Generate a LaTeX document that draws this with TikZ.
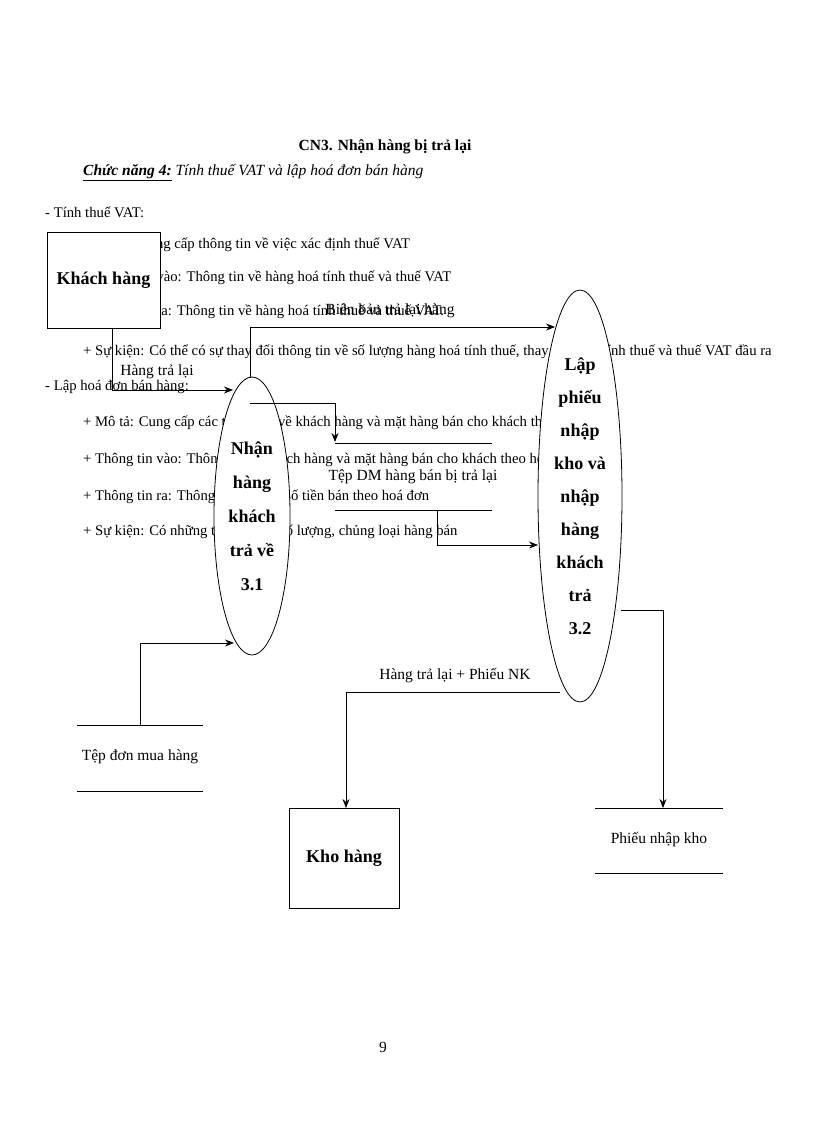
\documentclass[tikz,border=0pt]{standalone}
\usepackage{fontspec}
\setmainfont{Liberation Serif}
\usetikzlibrary{arrows.meta,shapes.geometric}
\begin{document}
\begin{tikzpicture}[x=1pt,y=-1pt,
  body/.style={anchor=west,inner sep=0,font=\fontsize{14.7}{16}\selectfont},
  lbl/.style={inner sep=0,font=\fontsize{15.5}{17}\selectfont},
  proc/.style={draw,ellipse,fill=white,line width=0.8pt,inner sep=0},
  ent/.style={draw,fill=white,line width=0.8pt,font=\bfseries\fontsize{18}{20}\selectfont},
  flow/.style={line width=0.8pt,-{Stealth[length=9pt,width=7pt]}},
  st/.style={line width=0.8pt}]
\useasboundingbox (0,0) rectangle (816,1123);
% background text
\node[inner sep=0,font=\bfseries\fontsize{15.5}{17}\selectfont] (title) at (385,147) {CN3. Nhận hàng bị trả lại};
\node[body,font=\itshape\fontsize{15.5}{17}\selectfont] (cn) at (83,173) {\underline{\textbf{Chức năng 4:}} Tính thuế VAT và lập hoá đơn bán hàng};
\node[body] (t1) at (45,212) {- Tính thuế VAT:};
\node[body] (t2) at (83,245) {+ Mô tả: Cung cấp thông tin về việc xác định thuế VAT};
\node[body] (t3) at (83,278) {+ Thông tin vào: Thông tin về hàng hoá tính thuế và thuế VAT};
\node[body] (t4) at (83,312) {+ Thông tin ra: Thông tin về hàng hoá tính thuế và thuế VAT.};
\node[body] (t5) at (83,352) {+ Sự kiện: Có thể có sự thay đổi thông tin về số lượng hàng hoá tính thuế, thay đổi việc tính thuế và thuế VAT đầu ra};
\node[body] (t6) at (45,387) {- Lập hoá đơn bán hàng:};
\node[body] (t7) at (83,423) {+ Mô tả: Cung cấp các thông tin về khách hàng và mặt hàng bán cho khách theo hoá đơn};
\node[body] (t8) at (83,460) {+ Thông tin vào: Thông tin về khách hàng và mặt hàng bán cho khách theo hoá đơn};
\node[body] (t9) at (83,497) {+ Thông tin ra: Thông tin về tổng số tiền bán theo hoá đơn};
\node[body] (t10) at (83,532) {+ Sự kiện: Có những thay đổi về số lượng, chủng loại hàng bán};
% diagram
\node[ent,minimum width=113pt,minimum height=96pt] (kh) at (103.5,280) {Khách hàng};
\node[ent,minimum width=110pt,minimum height=100pt] (kho) at (344,858) {Kho hàng};
\node[proc,minimum width=76pt,minimum height=278pt,align=center,font=\bfseries\fontsize{18}{34}\selectfont] (p1) at (252,516) {Nhận\\hàng\\khách\\trả về\\3.1};
\node[proc,minimum width=84pt,minimum height=412pt,align=center,font=\bfseries\fontsize{18}{33}\selectfont] (p2) at (580,496) {Lập\\phiếu\\nhập\\kho và\\nhập\\hàng\\khách\\trả\\3.2};
% stores
\coordinate (s1a) at (335,443); \coordinate (s1b) at (492,443);
\coordinate (s1c) at (335,510); \coordinate (s1d) at (492,510);
\draw[st] (s1a)--(s1b) (s1c)--(s1d);
\node[lbl] (s1) at (413,477) {Tệp DM hàng bán bị trả lại};
\coordinate (s2a) at (77,725); \coordinate (s2b) at (203,725);
\coordinate (s2c) at (77,791); \coordinate (s2d) at (203,791);
\draw[st] (s2a)--(s2b) (s2c)--(s2d);
\node[lbl] (s2) at (140,757) {Tệp đơn mua hàng};
\coordinate (s3a) at (595,808); \coordinate (s3b) at (723,808);
\coordinate (s3c) at (595,873); \coordinate (s3d) at (723,873);
\draw[st] (s3a)--(s3b) (s3c)--(s3d);
\node[lbl] (s3) at (659,840) {Phiếu nhập kho};
% flows
\draw[flow] (112,328) |- (233,390);
\node[lbl] (f1) at (157,372) {Hàng trả lại};
\draw[flow] (250,378) |- (555,327);
\node[lbl] (f2) at (390,311) {Biên bản trả lại hàng};
\draw[flow] (250,403) -| (335,442);
\draw[flow] (437,510) |- (538,545);
\draw[flow] (140,725) |- (234,643);
\draw[flow] (560,692) -| (346,808);
\node[lbl] (f3) at (455,676) {Hàng trả lại + Phiếu NK};
\draw[flow] (621,610) -| (663,808);
\node[lbl] (pg) at (383,1047) {9};
\end{tikzpicture}
\end{document}
